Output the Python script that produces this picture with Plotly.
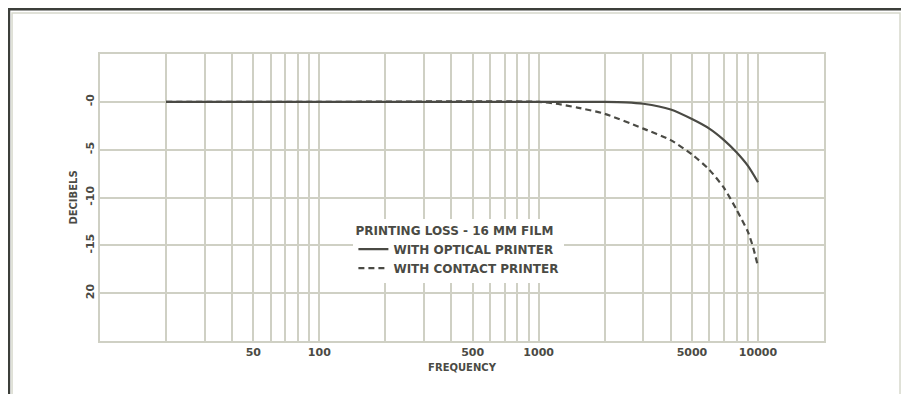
import plotly.graph_objects as go
import numpy as np

# ---- data ----
freq_optical = [20, 100, 1000, 2000, 2500, 3000, 4000, 5000, 6000, 7000, 8000, 9000, 10000]
db_optical = [0, 0, 0, 0, -0.05, -0.2, -0.8, -1.8, -2.8, -4.0, -5.3, -6.7, -8.4]

freq_contact = [20, 100, 1000, 1200, 1500, 2000, 3000, 4000, 5000, 6000, 7000, 8000, 9000, 9500, 10000]
db_contact = [0, 0, 0, -0.2, -0.6, -1.25, -2.8, -4.0, -5.5, -7.1, -9.0, -11.3, -13.6, -15.2, -17.2]

x_tick_vals = [50, 100, 500, 1000, 5000, 10000]
x_tick_text = ["50", "100", "500", "1000", "5000", "10000"]
x_grid_vals = [20, 30, 40, 60, 70, 80, 90, 200, 300, 400, 600, 700, 800, 900,
               2000, 3000, 4000, 6000, 7000, 8000, 9000]
y_tick_vals = [0, -5, -10, -15, -20]
y_tick_text = ["-0", "-5", "-10", "-15", "20"]

legend_title = "PRINTING LOSS - 16 MM FILM"
name_optical = "WITH OPTICAL PRINTER"
name_contact = "WITH CONTACT PRINTER"

ink = "#4a4a44"
grid = "#cfd0c4"
font_family = "DejaVu Sans"

fig = go.Figure()
fig.add_trace(go.Scatter(
    x=freq_optical, y=db_optical, mode="lines", name=name_optical,
    line=dict(color=ink, width=2.2, shape="spline", smoothing=0.7),
))
fig.add_trace(go.Scatter(
    x=freq_contact, y=db_contact, mode="lines", name=name_contact,
    line=dict(color=ink, width=2.2, dash="6px,4px", shape="spline", smoothing=0.6),
))

fig.update_layout(
    width=901, height=386,
    margin=dict(l=92, r=85, t=46, b=53),
    paper_bgcolor="white", plot_bgcolor="white",
    font=dict(family=font_family, color=ink, size=10, weight="bold"),
    showlegend=True,
    legend=dict(
        x=0.35, y=0.425, xanchor="left", yanchor="top",
        bgcolor="white", borderwidth=0,
        title=dict(text=legend_title, font=dict(size=12, color=ink, weight="bold")),
        font=dict(size=12, color=ink, weight="bold"),
        tracegroupgap=0, itemwidth=30,
    ),
    xaxis=dict(
        type="log", range=[1, np.log10(20000)],
        tickvals=x_tick_vals, ticktext=x_tick_text,
        showgrid=True, gridcolor=grid, gridwidth=1.5,
        showline=True, linecolor=grid, linewidth=2, mirror=True,
        ticks="", zeroline=False,
        minor=dict(tickvals=x_grid_vals, showgrid=True, gridcolor=grid, gridwidth=1.5, ticks=""),
        title=dict(text="FREQUENCY", font=dict(size=10, color=ink, weight="bold"), standoff=6),
        tickfont=dict(size=11, color=ink, weight="bold"),
    ),
    yaxis=dict(
        range=[-25, 5],
        tickvals=y_tick_vals, ticktext=y_tick_text, tickangle=-90,
        showgrid=True, gridcolor=grid, gridwidth=1.5,
        showline=True, linecolor=grid, linewidth=2, mirror=True,
        ticks="", zeroline=False,
        title=dict(text="DECIBELS", font=dict(size=10, color=ink, weight="bold"), standoff=4),
        tickfont=dict(size=11, color=ink, weight="bold"),
    ),
)

# scanned page frame
fig.add_shape(type="rect", xref="paper", yref="paper",
              x0=-0.1257, x1=1.113, y0=-0.25, y1=1.156,
              line=dict(color="#3c3f3a", width=2.5), layer="above")
fig.add_shape(type="rect", xref="paper", yref="paper",
              x0=-0.1215, x1=1.105, y0=-0.25, y1=1.143,
              line=dict(color="#d6d8cc", width=1.5), layer="above")

fig.write_html("out.html")
